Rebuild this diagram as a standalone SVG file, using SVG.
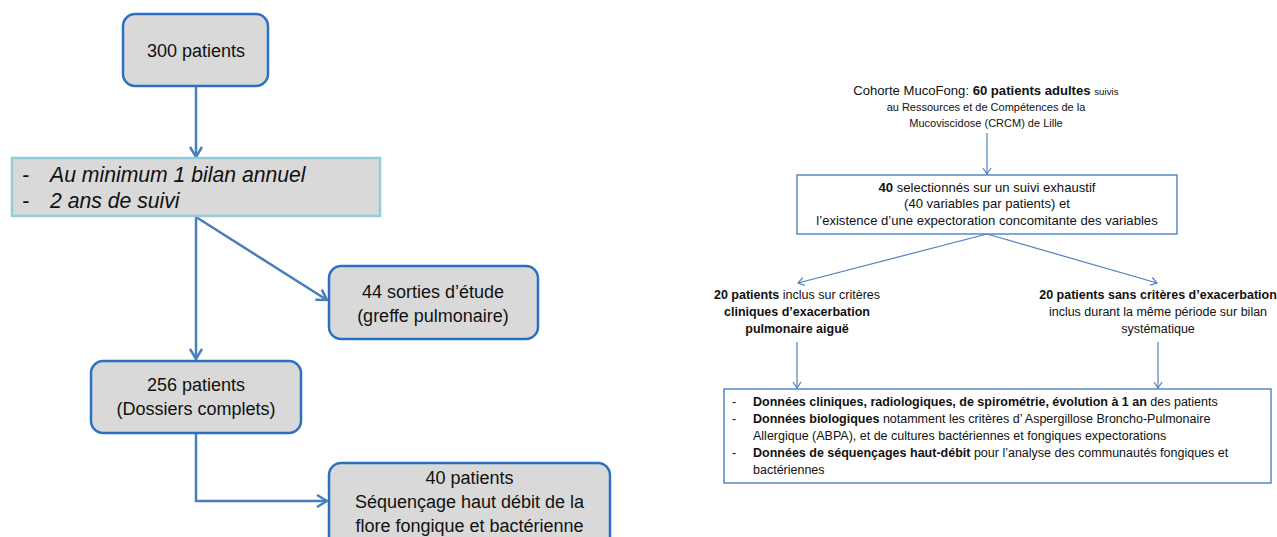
<svg xmlns="http://www.w3.org/2000/svg" width="1277" height="537" viewBox="0 0 1277 537">
<defs>
<marker id="arrL" markerUnits="userSpaceOnUse" viewBox="0 0 12 14" markerWidth="12" markerHeight="14" refX="11" refY="7" orient="auto">
<path d="M1,1 L11,7 L1,13" fill="none" stroke="#4a7ebb" stroke-width="2.5"/>
</marker>
<marker id="arrR" markerUnits="userSpaceOnUse" viewBox="0 0 8 10" markerWidth="8" markerHeight="10" refX="7" refY="5" orient="auto">
<path d="M1,1 L7,5 L1,9" fill="none" stroke="#4f81bd" stroke-width="1.2"/>
</marker>
</defs>
<style>
.rbox{fill:#d9d9d9;stroke:#2a72c0;stroke-width:2.5}
.lbox{fill:#d9d9d9;stroke:#93cddd;stroke-width:2.5}
.wbox{fill:#ffffff;stroke:#3a78b8;stroke-width:1.3}
.cl{fill:none;stroke:#4a7ebb;stroke-width:2.5}
.cr{fill:none;stroke:#4f81bd;stroke-width:1.2}
text{font-family:"Liberation Sans",Arial,sans-serif;fill:#111}
.t18{font-size:18px}
.it{font-size:21.2px;font-style:italic}
.s12{font-size:12.5px}
.s13{font-size:13.1px}
.s11{font-size:11px}
.b{font-weight:bold}
</style>
<g id="connectors">
<path class="cl" d="M196,86 V157" marker-end="url(#arrL)"/>
<path class="cl" d="M196,217 V359" marker-end="url(#arrL)"/>
<path class="cl" d="M196,217 L327,300" marker-end="url(#arrL)"/>
<path class="cl" d="M196,433 V501 H327" marker-end="url(#arrL)"/>
<path class="cr" d="M987,133 V174" marker-end="url(#arrR)"/>
<path class="cr" d="M987,234 L798,283" marker-end="url(#arrR)"/>
<path class="cr" d="M987,234 L1157,283" marker-end="url(#arrR)"/>
<path class="cr" d="M797,342 V388" marker-end="url(#arrR)"/>
<path class="cr" d="M1158,342 V388" marker-end="url(#arrR)"/>
</g>
<g id="n300">
<rect class="rbox" x="123" y="14" width="145" height="72" rx="12"/>
<text class="t18" x="196" y="57" text-anchor="middle">300 patients</text>
</g>
<g id="ncrit">
<rect class="lbox" x="12" y="158" width="368" height="58"/>
<text class="it" x="22" y="182">-</text>
<text class="it" x="50" y="182">Au minimum 1 bilan annuel</text>
<text class="it" x="22" y="208">-</text>
<text class="it" x="50" y="208">2 ans de suivi</text>
</g>
<g id="n44">
<rect class="rbox" x="329" y="266" width="209" height="73" rx="12"/>
<text class="t18" x="433" y="298" text-anchor="middle">44 sorties d’étude</text>
<text class="t18" x="433" y="322" text-anchor="middle">(greffe pulmonaire)</text>
</g>
<g id="n256">
<rect class="rbox" x="91" y="361" width="210" height="72" rx="12"/>
<text class="t18" x="196" y="391" text-anchor="middle">256 patients</text>
<text class="t18" x="196" y="415" text-anchor="middle">(Dossiers complets)</text>
</g>
<g id="n40">
<rect class="rbox" x="329" y="463" width="281" height="90" rx="12"/>
<text class="t18" x="469.5" y="484" text-anchor="middle">40 patients</text>
<text class="t18" x="469.5" y="508" text-anchor="middle">Séquençage haut débit de la</text>
<text class="t18" x="469.5" y="532" text-anchor="middle">flore fongique et bactérienne</text>
</g>
<g id="cohorte">
<text class="s13" x="986" y="95" text-anchor="middle">Cohorte MucoFong: <tspan class="b">60 patients adultes</tspan> <tspan font-size="9.8px">suivis</tspan></text>
<text class="s11" x="986" y="111" text-anchor="middle">au Ressources et de Compétences de la</text>
<text class="s11" x="986" y="127" text-anchor="middle">Mucoviscidose (CRCM) de Lille</text>
</g>
<g id="selection">
<rect class="wbox" x="797" y="175" width="380" height="59"/>
<text class="s13" x="987" y="192" text-anchor="middle"><tspan class="b">40</tspan> selectionnés sur un suivi exhaustif</text>
<text class="s13" x="987" y="208" text-anchor="middle">(40 variables par patients) et</text>
<text class="s13" x="987" y="225" text-anchor="middle">l’existence d’une expectoration concomitante des variables</text>
</g>
<g id="exacerb">
<text class="s12" x="797" y="299" text-anchor="middle"><tspan class="b">20 patients</tspan> inclus sur critères</text>
<text class="s12 b" x="797" y="316" text-anchor="middle">cliniques d’exacerbation</text>
<text class="s12 b" x="797" y="333" text-anchor="middle">pulmonaire aiguë</text>
</g>
<g id="sans">
<text class="s12 b" x="1158" y="299" text-anchor="middle">20 patients sans critères d’exacerbation</text>
<text class="s12" x="1158" y="316" text-anchor="middle">inclus durant la même période sur bilan</text>
<text class="s12" x="1158" y="333" text-anchor="middle">systématique</text>
</g>
<g id="donnees">
<rect class="wbox" x="724" y="389" width="547" height="94"/>
<text class="s12" x="732" y="406">-</text>
<text class="s12" x="753" y="406"><tspan class="b">Données cliniques, radiologiques, de spirométrie, évolution à 1 an</tspan> des patients</text>
<text class="s12" x="732" y="423">-</text>
<text class="s12" x="753" y="423"><tspan class="b">Données biologiques</tspan> notamment les critères d’ Aspergillose Broncho-Pulmonaire</text>
<text class="s12" x="753" y="440">Allergique (ABPA), et de cultures bactériennes et fongiques expectorations</text>
<text class="s12" x="732" y="457">-</text>
<text class="s12" x="753" y="457"><tspan class="b">Données de séquençages haut-débit</tspan> pour l’analyse des communautés fongiques et</text>
<text class="s12" x="753" y="474">bactériennes</text>
</g>
</svg>
